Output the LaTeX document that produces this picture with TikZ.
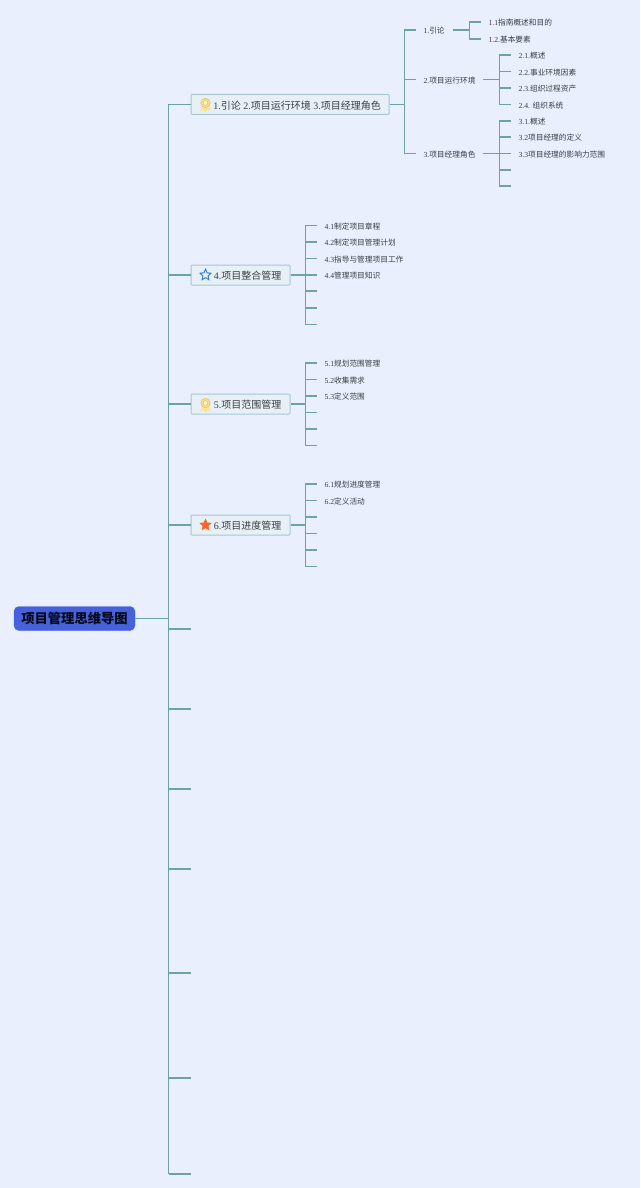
\documentclass[tikz,border=0pt]{standalone}
\usepackage{fontspec}
\setmainfont{Liberation Serif}
\newfontfamily\cjk{Noto Sans CJK SC}
\usetikzlibrary{shapes.geometric}
\newcommand{\zh}[1]{{\cjk #1}}
\definecolor{pagebg}{HTML}{E9EFFD}
\definecolor{branchline}{HTML}{6BA3A5}
\definecolor{boxfill}{HTML}{E7F0F6}
\definecolor{boxline}{HTML}{A8C6D0}
\definecolor{rootfill}{HTML}{4661DC}
\definecolor{inktext}{HTML}{3A3F45}
\definecolor{medalfill}{HTML}{FBE29A}
\definecolor{medalline}{HTML}{EBC566}
\tikzset{
    branch/.style={draw=branchline, line width=1.4pt},
    rootbox/.style={draw=rootfill, fill=rootfill, rounded corners=5pt, minimum width=121pt, minimum height=24pt, inner sep=0pt, font=\fontsize{13.3}{15}\selectfont\bfseries, text=black!90!rootfill},
    topicbox/.style={draw=boxline, line width=1pt, fill=boxfill, rounded corners=1pt, minimum height=20pt, inner sep=0pt, anchor=west, text height=9.5pt, text depth=0pt, font=\fontsize{10}{12}\selectfont, text=inktext},
    leaf/.style={anchor=west, inner xsep=7.8pt, inner ysep=0pt, text height=7.2pt, text depth=0pt, font=\fontsize{7.7}{9}\selectfont, text=inktext},
    medal/.pic={
        \fill[fill=medalfill] (-3,-1) -- (-5.5,-7) -- (-2.5,-5.5) -- (0,-7.5) -- (2.5,-5.5) -- (5.5,-7) -- (3,-1) -- cycle;
        \draw[draw=medalline, line width=0.8pt, fill=medalfill] (0,1.5) circle (4.6);
        \draw[draw=medalline, line width=0.7pt, fill=yellow!20!white] (0,1.5) circle (2.4);
    }
}
\begin{document}
\begin{tikzpicture}[x=1pt, y=-1pt]
    \useasboundingbox[fill=pagebg] (0.5,0) rectangle (640.5,1188);

    % root and the long spine
    \node[rootbox] (root) at (75,618.5) {\zh{项目管理思维导图}};
    \coordinate (spinetop) at (169,104.5);
    \coordinate (spinemid) at (169,618.5);
    \draw[branch] (root.east) -- (spinemid);

    % main topics
    \node[topicbox, minimum width=198pt] (topicone) at (191,104.5) {\hspace{22pt}1.\zh{引论} 2.\zh{项目运行环境} 3.\zh{项目经理角色}\hspace*{8pt}\hfill};
    \node[topicbox, minimum width=99pt] (topicfour) at (191,275) {\hspace{22pt}4.\zh{项目整合管理}\hspace*{8pt}};
    \node[topicbox, minimum width=99pt] (topicfive) at (191,404) {\hspace{22pt}5.\zh{项目范围管理}\hspace*{8pt}};
    \node[topicbox, minimum width=99pt] (topicsix) at (191,525) {\hspace{22pt}6.\zh{项目进度管理}\hspace*{8pt}};

    % icons
    \begin{scope}[x=1pt, y=1pt]
        \pic at (206,-104.5) {medal};
        \pic at (206,-404.5) {medal};
    \end{scope}
    \node[star, star points=5, star point ratio=2.1, draw=cyan!55!blue!85, line width=1pt, fill=boxfill, inner sep=0pt, minimum size=11.5pt] (iconfour) at (206,275) {};
    \node[star, star points=5, star point ratio=2.1, fill=orange!55!red!85, inner sep=0pt, minimum size=13pt] (iconsix) at (206,525) {};

    % spine stubs
    \coordinate (spinebot) at (169,1174);
    \draw[branch] (spinetop) -- (spinebot);
    \draw[branch] (spinetop) -- (topicone.west);
    \draw[branch] (spinetop |- topicfour.west) -- (topicfour.west);
    \draw[branch] (spinetop |- topicfive.west) -- (topicfive.west);
    \draw[branch] (spinetop |- topicsix.west) -- (topicsix.west);
    \foreach \n/\y in {a/629,b/709,c/789,d/869,e/973,f/1078,g/1174} {
        \coordinate (stub\n) at (191,\y);
        \draw[branch] (spinetop |- stub\n) -- (stub\n);
    }

    % topic one, second level
    \coordinate (jone) at (405,104.5);
    \draw[branch] (topicone.east) -- (jone);
    \node[leaf] (intro) at (416,30) {1.\zh{引论}};
    \node[leaf] (envir) at (416,79.5) {2.\zh{项目运行环境}};
    \node[leaf] (role) at (416,153.5) {3.\zh{项目经理角色}};
    \foreach \n in {intro,envir,role}
        \draw[branch] (jone) |- (\n.west);

    % topic one, third level
    \coordinate (jintro) at (470,30);
    \draw[branch] (intro.east) -- (jintro);
    \foreach \n/\y/\txt in {ia/22/{1.1\zh{指南概述和目的}},ib/39/{1.2.\zh{基本要素}}} {
        \node[leaf] (\n) at (481,\y) {\txt};
        \draw[branch] (jintro) |- (\n.west);
    }
    \coordinate (jenvir) at (500,79.5);
    \draw[branch] (envir.east) -- (jenvir);
    \foreach \n/\y/\txt in {ea/55/{2.1.\zh{概述}},eb/71.5/{2.2.\zh{事业环境因素}},ec/88/{2.3.\zh{组织过程资产}},ed/104.5/{2.4. \zh{组织系统}}} {
        \node[leaf] (\n) at (511,\y) {\txt};
        \draw[branch] (jenvir) |- (\n.west);
    }
    \coordinate (jrole) at (500,153.5);
    \draw[branch] (role.east) -- (jrole);
    \foreach \n/\y/\txt in {ra/121/{3.1.\zh{概述}},rb/137/{3.2\zh{项目经理的定义}},rc/153.5/{3.3\zh{项目经理的影响力范围}}} {
        \node[leaf] (\n) at (511,\y) {\txt};
        \draw[branch] (jrole) |- (\n.west);
    }
    \foreach \n/\y in {rd/170,re/186} {
        \coordinate (\n) at (511,\y);
        \draw[branch] (jrole) |- (\n);
    }

    % topic four
    \coordinate (jfour) at (306,275);
    \draw[branch] (topicfour.east) -- (jfour);
    \foreach \n/\y/\txt in {fa/225.5/{4.1\zh{制定项目章程}},fb/242/{4.2\zh{制定项目管理计划}},fc/258.5/{4.3\zh{指导与管理项目工作}},fd/275/{4.4\zh{管理项目知识}}} {
        \node[leaf] (\n) at (317,\y) {\txt};
        \draw[branch] (jfour) |- (\n.west);
    }
    \foreach \n/\y in {fe/291,ff/308,fg/324.5} {
        \coordinate (\n) at (317,\y);
        \draw[branch] (jfour) |- (\n);
    }

    % topic five
    \coordinate (jfive) at (306,404);
    \draw[branch] (topicfive.east) -- (jfive);
    \foreach \n/\y/\txt in {va/363/{5.1\zh{规划范围管理}},vb/379.5/{5.2\zh{收集需求}},vc/396/{5.3\zh{定义范围}}} {
        \node[leaf] (\n) at (317,\y) {\txt};
        \draw[branch] (jfive) |- (\n.west);
    }
    \foreach \n/\y in {vd/412.5,ve/429,vf/445.5} {
        \coordinate (\n) at (317,\y);
        \draw[branch] (jfive) |- (\n);
    }

    % topic six
    \coordinate (jsix) at (306,525);
    \draw[branch] (topicsix.east) -- (jsix);
    \foreach \n/\y/\txt in {sa/484/{6.1\zh{规划进度管理}},sb/500.5/{6.2\zh{定义活动}}} {
        \node[leaf] (\n) at (317,\y) {\txt};
        \draw[branch] (jsix) |- (\n.west);
    }
    \foreach \n/\y in {sc/517,sd/533.5,se/550,sf/566.5} {
        \coordinate (\n) at (317,\y);
        \draw[branch] (jsix) |- (\n);
    }
\end{tikzpicture}
\end{document}
